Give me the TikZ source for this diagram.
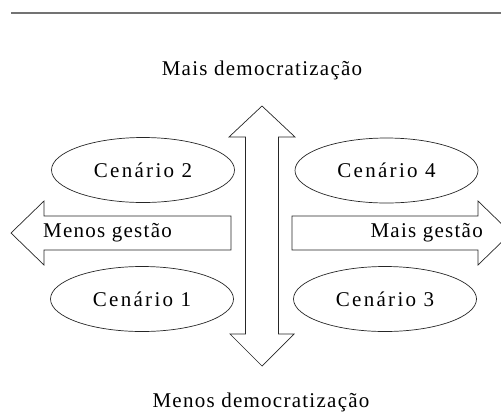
\documentclass[tikz,border=0pt]{standalone}
\usepackage{fontspec}
\setmainfont{Liberation Serif}
\newfontfamily\lsA[LetterSpace=6]{Liberation Serif}
\newfontfamily\lsB[LetterSpace=11]{Liberation Serif}
\usetikzlibrary{shapes.geometric}
\begin{document}
\begin{tikzpicture}[x=1pt,y=-1pt,
  outl/.style={draw=black!85,line width=0.7pt,line join=miter},
  txt/.style={inner sep=0pt,font=\lsA\fontsize{21}{24}\selectfont},
  cen/.style={ellipse,outl,minimum width=183pt,minimum height=65pt,inner sep=0pt,font=\lsB\fontsize{21}{24}\selectfont},
  rule/.style={draw=black!55,line width=1.2pt}]
\useasboundingbox (0,0) rectangle (501,416);
\coordinate (r1) at (11,13);
\coordinate (r2) at (501,13);
\draw[rule] (r1) -- (r2);
% vertical double arrow
\draw[outl] (262,106) -- (295,137) -- (278.5,137) -- (278.5,334) -- (294,334) -- (262,366)
  -- (230,334) -- (245.5,334) -- (245.5,137) -- (229,137) -- cycle;
% left arrow
\draw[outl] (11,233) -- (44,201) -- (44,216) -- (231,216) -- (231,250) -- (44,250) -- (44,265) -- cycle;
% right arrow
\draw[outl] (511,233) -- (478,201) -- (478,216) -- (292,216) -- (292,250) -- (478,250) -- (478,265) -- cycle;
% ellipses
\node[cen] (c2) at (143,170) {Cenário 2};
\node[cen] (c4) at (386.5,170.5) {Cenário 4};
\node[cen] (c1) at (142,299) {Cenário 1};
\node[cen] (c3) at (385,299) {Cenário 3};
% labels
\node[txt,anchor=base] (top) at (262,75) {Mais democratização};
\node[txt,anchor=base] (bot) at (261,407) {Menos democratização};
\node[txt,anchor=base west] (mg) at (43,237) {Menos gestão};
\node[txt,anchor=base east] (pg) at (483,237) {Mais gestão};
\end{tikzpicture}
\end{document}
